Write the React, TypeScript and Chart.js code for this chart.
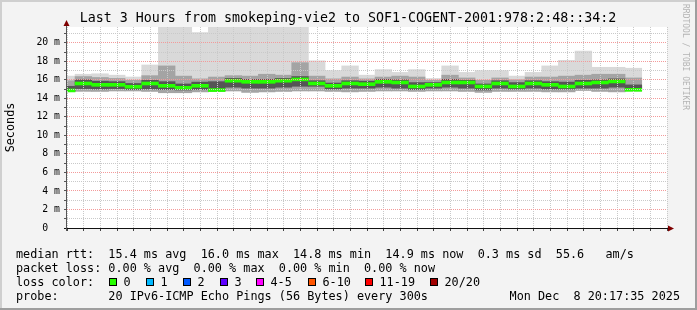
import React, { useEffect, useRef } from "react";
import { Chart, registerables } from "chart.js";

Chart.register(...registerables);

// ---------- data ----------
const TITLE = "Last 3 Hours from smokeping-vie2 to SOF1-COGENT-2001:978:2:48::34:2";
const Y_TITLE = "Seconds";
const X_START = "17:17:35";
const X_END = "20:17:35";
const Y_MAX = 21.7;
const SLOT_MINUTES = 5;

const slotStart = [
  "17:15", "17:20", "17:25", "17:30", "17:35", "17:40", "17:45", "17:50", "17:55",
  "18:00", "18:05", "18:10", "18:15", "18:20", "18:25", "18:30", "18:35", "18:40", "18:45", "18:50", "18:55",
  "19:00", "19:05", "19:10", "19:15", "19:20", "19:25", "19:30", "19:35", "19:40", "19:45", "19:50", "19:55",
  "20:00", "20:05",
];
// median rtt (ms)
const medianRtt = [
  14.85, 15.6, 15.46, 15.46, 15.25, 15.6, 15.35, 15.14, 15.35,
  14.89, 15.9, 15.78, 15.78, 15.9, 16.04, 15.6, 15.35, 15.6, 15.53, 15.78, 15.71,
  15.28, 15.46, 15.71, 15.71, 15.28, 15.6, 15.28, 15.6, 15.46, 15.28, 15.6, 15.71,
  15.82, 14.92,
];
// smoke: lowest ping
const rttMin = [
  14.72, 14.76, 14.75, 14.8, 14.8, 14.75, 14.6, 14.6, 14.7,
  14.75, 14.8, 14.65, 14.7, 14.75, 14.8, 14.8, 14.75, 14.7, 14.75, 14.8, 14.8,
  14.75, 14.8, 14.8, 14.75, 14.65, 14.75, 14.75, 14.75, 14.7, 14.7, 14.85, 14.75,
  14.7, 14.8,
];
// smoke: dense core low edge
const rttLo = [
  14.8, 15.05, 15.0, 15.05, 14.95, 15.0, 14.95, 14.9, 14.95,
  14.85, 15.2, 15.1, 15.1, 15.2, 15.3, 15.3, 15.0, 15.1, 15.1, 15.2, 15.1,
  14.95, 15.1, 15.2, 15.1, 14.9, 15.1, 15.0, 15.1, 15.0, 15.0, 15.1, 15.1,
  15.2, 14.9,
];
// smoke: dense core high edge
const rttHi = [
  15.3, 16.0, 15.85, 15.8, 15.6, 15.95, 15.8, 15.55, 15.75,
  15.8, 16.15, 16.05, 16.05, 16.15, 16.35, 15.9, 15.65, 15.9, 15.85, 16.05, 16.0,
  15.7, 15.7, 16.05, 15.95, 15.55, 15.9, 15.7, 15.9, 15.8, 15.75, 15.95, 16.0,
  16.1, 15.45,
];
// smoke: second-highest band top
const rttHi2 = [
  15.9, 16.35, 16.25, 16.15, 15.95, 16.45, 17.5, 16.4, 16.1,
  16.3, 16.45, 16.4, 16.6, 16.5, 17.85, 16.4, 16.1, 16.3, 16.1, 16.3, 16.4,
  16.3, 15.95, 16.5, 16.2, 15.95, 16.2, 16.0, 16.3, 16.3, 16.4, 16.5, 16.6,
  16.6, 16.2,
];
// smoke: highest ping
const rttMax = [
  16.4, 16.6, 16.65, 16.5, 16.3, 17.6, 23.0, 24.0, 21.1,
  24.0, 25.0, 25.0, 25.0, 25.0, 25.0, 18.05, 17.0, 17.5, 16.5, 17.1, 16.8,
  17.1, 16.15, 17.5, 16.8, 17.0, 17.0, 16.4, 16.8, 17.5, 18.1, 19.1, 17.35,
  17.35, 17.25,
];

const legendRtt = "median rtt:  15.4 ms avg  16.0 ms max  14.8 ms min  14.9 ms now  0.3 ms sd  55.6   am/s";
const legendLoss = "packet loss: 0.00 % avg  0.00 % max  0.00 % min  0.00 % now";
const legendLossColor = "loss color:";
const legendProbe = "probe:       20 IPv6-ICMP Echo Pings (56 Bytes) every 300s";
const legendDate = "Mon Dec  8 20:17:35 2025";
const credit = "RRDTOOL / TOBI OETIKER";
const lossBuckets = ["0", "1", "2", "3", "4-5", "6-10", "11-19", "20/20"];
const lossColors = ["#26ff00", "#00b8ff", "#0059ff", "#5e00ff", "#ff00ff", "#ff5500", "#ff0000", "#a10000"];
const lossBoxX = [109, 146, 183, 220, 256, 308, 365, 430];

// ---------- styles ----------
const MONO = "DejaVu Sans Mono";
const BG = "#f3f3f3";
const MAJOR_GRID = "#f39a9a";
const MINOR_GRID = "#c9c9c9";
const MEDIAN_HALF = 0.16;
const MEDIAN_COLOR = lossColors[0];

const toMin = (t: string) => {
  const p = t.split(":").map(Number);
  return p[0] * 60 + p[1] + (p[2] || 0) / 60;
};
const pad2 = (n: number) => String(n).padStart(2, "0");

const bandData = (lo: number[], hi: number[]) =>
  slotStart.map((t, i) => ({ x: toMin(t) + SLOT_MINUTES / 2, y: [lo[i], hi[i]] }));

const barCommon = {
  borderWidth: 0,
  barPercentage: 1,
  categoryPercentage: 1,
  grouped: false,
};

const framePlugin = {
  id: "smokeFrame",
  beforeDraw(chart: any) {
    const { ctx, width, height, chartArea: a } = chart;
    ctx.save();
    ctx.fillStyle = BG;
    ctx.fillRect(0, 0, width, height);
    ctx.fillStyle = "#ffffff";
    ctx.fillRect(a.left, a.top, a.right - a.left, a.bottom - a.top);
    ctx.fillStyle = "#cfcfcf";
    ctx.fillRect(0, 0, width, 2);
    ctx.fillRect(0, 0, 2, height);
    ctx.fillStyle = "#9e9e9e";
    ctx.fillRect(0, height - 2, width, 2);
    ctx.fillRect(width - 2, 0, 2, height);
    // credit
    ctx.translate(683, 4);
    ctx.rotate(Math.PI / 2);
    ctx.fillStyle = "#b4b4b4";
    ctx.font = `8px ${MONO}`;
    ctx.textBaseline = "alphabetic";
    ctx.textAlign = "left";
    ctx.fillText(credit, 0, 0);
    ctx.restore();
  },
  afterDraw(chart: any) {
    const { ctx, chartArea: a } = chart;
    const L = Math.round(a.left) - 0.5;
    const B = Math.round(a.bottom) + 0.5;
    ctx.save();
    ctx.lineWidth = 1;
    ctx.setLineDash([]);
    ctx.strokeStyle = "#111";
    ctx.beginPath();
    ctx.moveTo(a.left - 3, B);
    ctx.lineTo(a.right + 1, B);
    ctx.stroke();
    ctx.strokeStyle = "#555";
    ctx.beginPath();
    ctx.moveTo(L, a.bottom + 3);
    ctx.lineTo(L, a.top - 1);
    ctx.stroke();
    ctx.fillStyle = "#7f0000";
    ctx.beginPath();
    ctx.moveTo(a.right + 1, B - 3);
    ctx.lineTo(a.right + 7, B);
    ctx.lineTo(a.right + 1, B + 3);
    ctx.closePath();
    ctx.fill();
    ctx.beginPath();
    ctx.moveTo(L - 3, a.top - 1);
    ctx.lineTo(L, a.top - 7);
    ctx.lineTo(L + 3, a.top - 1);
    ctx.closePath();
    ctx.fill();
    ctx.restore();
  },
};

export default function App() {
  const ref = useRef<HTMLCanvasElement>(null);

  useEffect(() => {
    const canvas = ref.current;
    if (!canvas) return;
    const xMin = toMin(X_START);
    const xMax = toMin(X_END);
    const chart = new Chart(canvas, {
      type: "bar",
      data: {
        datasets: [
          {
            ...barCommon,
            label: "median",
            data: slotStart.map((t, i) => ({
              x: toMin(t) + SLOT_MINUTES / 2,
              y: [medianRtt[i] - MEDIAN_HALF, medianRtt[i] + MEDIAN_HALF],
            })),
            backgroundColor: MEDIAN_COLOR,
          },
          { ...barCommon, label: "core", data: bandData(rttLo, rttHi), backgroundColor: "#555555" },
          { ...barCommon, label: "mid", data: bandData(rttMin, rttHi2), backgroundColor: "#a4a4a4" },
          { ...barCommon, label: "outer", data: bandData(rttMin, rttMax), backgroundColor: "#d9d9d9" },
        ] as any,
      },
      options: {
        animation: false,
        responsive: false,
        maintainAspectRatio: false,
        events: [],
        layout: { padding: { left: 0, right: 30, top: 27, bottom: 64 } },
        plugins: {
          legend: { display: false },
          tooltip: { enabled: false },
          title: { display: false },
        },
        scales: {
          x: {
            type: "linear",
            min: xMin,
            max: xMax,
            offset: false,
            grid: {
              offset: false,
              z: 1,
              color: (c: any) => (Math.abs(c.tick.value % 20) < 1e-6 ? MAJOR_GRID : MINOR_GRID),
              lineWidth: 1,
              drawTicks: true,
              tickLength: 3,
              tickColor: "#444",
              tickWidth: 1,
              tickBorderDash: [],
            },
            border: { display: false, dash: [1, 1] },
            ticks: {
              stepSize: SLOT_MINUTES,
              includeBounds: false,
              autoSkip: false,
              maxRotation: 0,
              padding: 0,
              color: "#000",
              font: { family: MONO, size: 9.8 },
              callback: (v: any) => {
                const n = Number(v);
                if (Math.abs(n % 20) > 1e-6) return "";
                return `${Math.floor(n / 60)}:${pad2(Math.round(n % 60))}`;
              },
            },
            afterFit: (s: any) => {
              s.height = 18;
            },
          },
          y: {
            min: 0,
            max: Y_MAX,
            grid: {
              z: 1,
              color: (c: any) => (c.tick.value % 2 === 0 ? MAJOR_GRID : MINOR_GRID),
              lineWidth: 1,
              drawTicks: true,
              tickLength: 3,
              tickColor: "#555",
              tickWidth: 1,
              tickBorderDash: [],
            },
            border: { display: false, dash: [1, 1] },
            ticks: {
              stepSize: 1,
              includeBounds: false,
              autoSkip: false,
              padding: 4,
              color: "#000",
              font: { family: MONO, size: 9.8 },
              callback: (v: any) => {
                const n = Number(v);
                if (n % 2 !== 0) return "";
                return n === 0 ? "0  " : `${n} m`;
              },
            },
            title: {
              display: true,
              text: Y_TITLE,
              color: "#000",
              font: { family: MONO, size: 11.8 },
              padding: { top: 4, bottom: 0 },
            },
            afterFit: (s: any) => {
              s.width = 67;
            },
          },
        },
      } as any,
      plugins: [framePlugin],
    });
    return () => chart.destroy();
  }, []);

  const textStyle: React.CSSProperties = {
    position: "absolute",
    fontFamily: MONO,
    fontSize: "11.8px",
    lineHeight: "14px",
    whiteSpace: "pre",
    color: "#000",
  };

  return (
    <div
      style={{
        position: "absolute",
        left: 0,
        top: 0,
        width: 697,
        height: 310,
        overflow: "hidden",
        background: BG,
      }}
    >
      <canvas ref={ref} width={697} height={310} style={{ display: "block", width: 697, height: 310 }} />
      <div
        style={{
          position: "absolute",
          left: 0,
          top: 10,
          width: 696,
          textAlign: "center",
          fontFamily: MONO,
          fontSize: "13.3px",
          lineHeight: "16px",
          whiteSpace: "pre",
          color: "#000",
        }}
      >
        {TITLE}
      </div>
      <div style={{ ...textStyle, left: 16, top: 247 }}>{legendRtt}</div>
      <div style={{ ...textStyle, left: 16, top: 261 }}>{legendLoss}</div>
      <div style={{ ...textStyle, left: 16, top: 275 }}>{legendLossColor}</div>
      {lossBuckets.map((b, i) => (
        <React.Fragment key={b}>
          <div
            style={{
              position: "absolute",
              left: lossBoxX[i],
              top: 278,
              width: 8,
              height: 8,
              boxSizing: "border-box",
              border: "1px solid #000",
              background: lossColors[i],
            }}
          />
          <div style={{ ...textStyle, left: lossBoxX[i] + 14.5, top: 275 }}>{b}</div>
        </React.Fragment>
      ))}
      <div style={{ ...textStyle, left: 16, top: 289 }}>{legendProbe}</div>
      <div style={{ ...textStyle, right: 17, top: 289 }}>{legendDate}</div>
    </div>
  );
}
